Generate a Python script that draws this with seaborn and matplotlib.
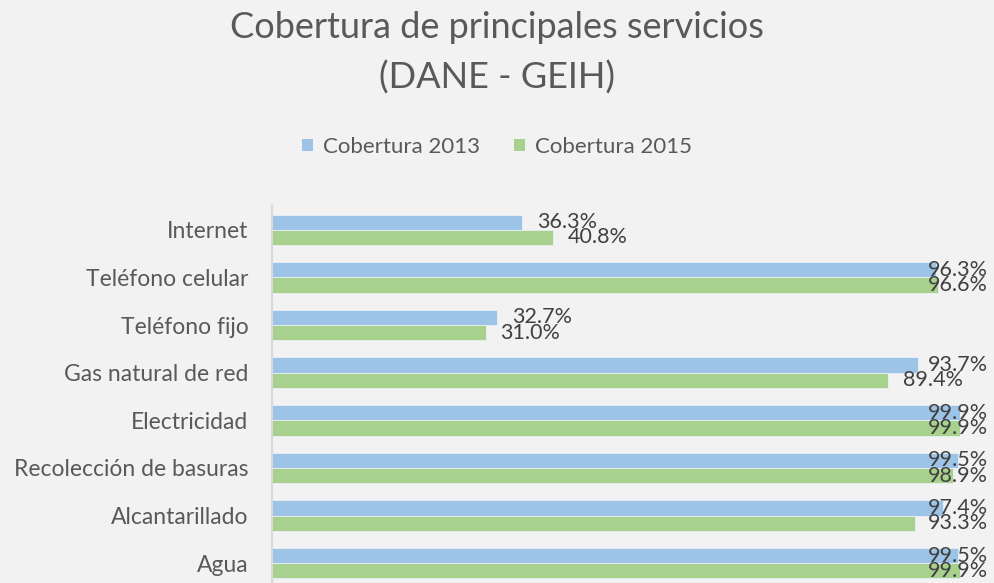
import matplotlib
matplotlib.use("Agg")
import matplotlib.pyplot as plt
import seaborn as sns
import pandas as pd
from matplotlib.patches import Patch

categories = ["Internet", "Teléfono celular", "Teléfono fijo", "Gas natural de red",
              "Electricidad", "Recolección de basuras", "Alcantarillado", "Agua"]
cobertura_2013 = [36.3, 96.3, 32.7, 93.7, 99.9, 99.5, 97.4, 99.5]
cobertura_2015 = [40.8, 96.6, 31.0, 89.4, 99.9, 98.9, 93.3, 99.9]
series = ["Cobertura 2013", "Cobertura 2015"]
colors = ["#9dc3e6", "#a9d18e"]

df = pd.DataFrame({
    "servicio": categories * 2,
    "valor": cobertura_2013 + cobertura_2015,
    "serie": [series[0]] * len(categories) + [series[1]] * len(categories),
})

sns.set_theme(style="white")
plt.rcParams["font.family"] = ["Lato", "DejaVu Sans"]

BG = "#f2f2f2"
TXT = "#595959"
W, H = 994, 583
fig = plt.figure(figsize=(W / 100, H / 100), dpi=100, facecolor=BG)
ax = fig.add_axes([272 / W, -4 / H, (961 - 272) / W, (583 - 206 + 4) / H])
ax.set_facecolor(BG)

sns.barplot(data=df, y="servicio", x="valor", hue="serie", order=categories,
            hue_order=series, palette=colors, orient="h", width=0.64,
            edgecolor="#e8f0f8", linewidth=0.6, saturation=1, legend=False, ax=ax)

ax.set_xlim(0, 100)
ax.set_ylim(len(categories) - 0.5, -0.5)
ax.set_xlabel("")
ax.set_ylabel("")
ax.set_xticks([])
ax.tick_params(axis="y", length=0, pad=17, labelsize=16.5, labelcolor=TXT)
for s in ["top", "right", "bottom"]:
    ax.spines[s].set_visible(False)
ax.spines["left"].set_color("#d9d9d9")
ax.spines["left"].set_linewidth(1.5)
ax.spines["left"].set_zorder(5)

# value labels at the end of each bar, kept inside the figure's right edge
labels = []
for container, vals in zip(ax.containers, [cobertura_2013, cobertura_2015]):
    for bar, v in zip(container, vals):
        yc = bar.get_y() + bar.get_height() / 2
        t = ax.annotate(f"{v:.1f}%", xy=(v, yc), xytext=(15, 0),
                        textcoords="offset pixels", ha="left", va="center",
                        fontsize=15.5, color="#404040", annotation_clip=False)
        labels.append(t)

fig.canvas.draw()
renderer = fig.canvas.get_renderer()
right_limit = 988
for t in labels:
    bb = t.get_window_extent(renderer)
    if bb.x1 > right_limit:
        t.set_position((15 - (bb.x1 - right_limit), 0))

fig.text(0.5, 1 - 27 / H, "Cobertura de principales servicios", ha="center", va="center",
         fontsize=26, color=TXT)
fig.text(0.5, 1 - 78 / H, "(DANE - GEIH)", ha="center", va="center",
         fontsize=26, color=TXT)

handles = [Patch(facecolor=c, edgecolor="none") for c in colors]
fig.legend(handles, series, loc="center", bbox_to_anchor=(0.5, 1 - 147 / H), ncol=2,
           frameon=False, fontsize=16, labelcolor=TXT, handlelength=0.5,
           handleheight=0.5, handletextpad=0.45, columnspacing=1.5)

fig.savefig("out.png", dpi=100, facecolor=BG)
